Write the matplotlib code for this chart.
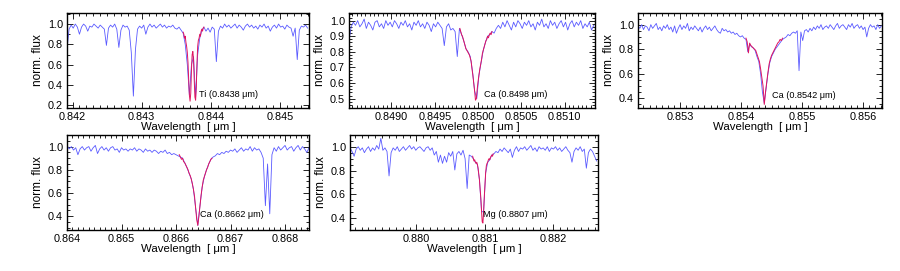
import numpy as np
import matplotlib
matplotlib.use("Agg")
import matplotlib.pyplot as plt
from matplotlib.ticker import MultipleLocator, FormatStrFormatter

plt.rcParams['font.family'] = ['Liberation Sans', 'DejaVu Sans']

# ---------------- data ----------------
# Panel 1: Ti 0.8438
p1_wl_start, p1_wl_step = 0.84192, 0.00003
p1_flux = [0.75, 0.95, 0.99, 0.96, 1.00, 0.97, 0.90, 0.97, 1.00, 0.98,
           0.93, 0.98, 0.97, 1.00, 0.98, 0.96, 0.99, 0.97, 0.95, 0.79,
           0.96, 0.99, 0.97, 1.00, 0.95, 0.77, 0.94, 0.99, 0.97, 0.98,
           0.94, 0.72, 0.29, 0.75, 0.95, 0.98, 0.96, 0.99, 0.90, 0.97,
           1.00, 0.97, 0.99, 0.96, 0.98, 1.00, 0.97, 0.99, 0.96, 0.98,
           0.97, 0.99, 0.96, 0.95, 0.97, 0.94, 0.91, 0.80, 0.60, 0.30,
           0.60, 0.68, 0.28, 0.70, 0.86, 0.94, 0.97, 0.93, 0.96, 0.92,
           0.97, 0.95, 0.63, 0.93, 0.98, 0.96, 1.00, 0.97, 0.99, 0.96,
           0.98, 1.00, 0.96, 0.99, 0.97, 0.94, 0.98, 1.00, 0.97, 0.99,
           0.96, 0.98, 0.95, 0.99, 0.97, 1.00, 0.96, 0.98, 0.93, 0.97,
           0.99, 0.96, 1.00, 0.97, 0.98, 0.95, 0.99, 0.97, 0.96, 0.88,
           0.96, 0.65, 0.94, 0.98, 0.97, 0.99, 0.96]
p1_red_start, p1_red_step = 0.84360, 0.00001
p1_red = [0.92, 0.90, 0.86, 0.88, 0.82, 0.78, 0.72, 0.62, 0.45, 0.30,
          0.24, 0.32, 0.55, 0.70, 0.73, 0.65, 0.45, 0.28, 0.25, 0.38,
          0.62, 0.78, 0.84, 0.86, 0.90, 0.88, 0.93, 0.95, 0.93, 0.96, 0.97]

# Panel 2: Ca 0.8498
p2_wl_start, p2_wl_step = 0.84851, 0.000025
p2_flux = [0.87, 0.96, 0.99, 0.97, 1.00, 0.96, 0.98, 1.01, 0.95, 0.99,
           0.97, 0.94, 0.99, 1.00, 0.96, 0.98, 0.95, 1.00, 0.97, 0.99,
           0.96, 1.00, 0.98, 0.95, 0.99, 0.97, 1.00, 0.96, 0.98, 0.94,
           0.99, 0.97, 1.00, 0.96, 0.98, 0.95, 0.99, 0.97, 0.93, 0.98,
           0.96, 0.99, 0.97, 0.95, 0.84, 0.96, 0.98, 0.94, 0.95, 0.93,
           0.77, 0.95, 0.91, 0.87, 0.82, 0.80, 0.77, 0.68, 0.55, 0.50,
           0.65, 0.73, 0.81, 0.86, 0.90, 0.91, 0.93, 0.92, 0.95, 0.97,
           0.95, 0.99, 0.96, 1.00, 0.97, 0.94, 0.99, 0.96, 1.00, 0.98,
           0.95, 0.99, 0.97, 1.00, 0.96, 0.98, 0.94, 0.99, 0.97, 1.01,
           0.96, 0.98, 0.95, 1.00, 0.97, 0.99, 0.95, 0.98, 1.00, 0.96,
           0.99, 0.94, 0.98, 1.00, 0.96, 0.99, 0.97, 1.00, 0.95, 0.98,
           0.96, 0.99, 0.94, 0.97]
p2_red_start, p2_red_step = 0.84979, 0.00001
p2_red = [0.95, 0.93, 0.91, 0.90, 0.88, 0.86, 0.84, 0.82, 0.81, 0.80,
          0.79, 0.78, 0.76, 0.74, 0.69, 0.65, 0.60, 0.55, 0.49, 0.50,
          0.56, 0.61, 0.65, 0.69, 0.72, 0.75, 0.79, 0.81, 0.83, 0.85,
          0.87, 0.88, 0.90, 0.89, 0.91, 0.92, 0.91, 0.93]

# Panel 3: Ca 0.8542
p3_wl_start, p3_wl_step = 0.85231, 0.00003
p3_flux = [0.99, 0.97, 1.00, 0.96, 0.99, 0.98, 0.95, 1.00, 0.97, 0.99,
           1.01, 0.96, 0.98, 0.95, 0.99, 0.97, 1.00, 0.96, 0.98, 0.94,
           0.99, 0.93, 0.97, 1.00, 0.96, 0.99, 0.97, 1.01, 0.95, 0.98,
           0.96, 0.99, 0.97, 0.95, 0.98, 0.94, 0.97, 0.99, 0.96, 0.98,
           0.95, 0.97, 0.99, 0.96, 0.94, 0.93, 0.97, 0.95, 0.96, 0.94,
           0.95, 0.93, 0.94, 0.92, 0.93, 0.91, 0.90, 0.91, 0.89, 0.88,
           0.78, 0.84, 0.82, 0.81, 0.79, 0.74, 0.70, 0.60, 0.45, 0.36,
           0.48, 0.60, 0.69, 0.74, 0.77, 0.80, 0.82, 0.84, 0.86, 0.88,
           0.89, 0.90, 0.92, 0.91, 0.93, 0.94, 0.93, 0.95, 0.625, 0.94,
           0.87, 0.95, 0.96, 0.94, 0.97, 0.95, 0.98, 0.96, 0.99, 0.97,
           1.00, 0.96, 0.98, 0.99, 0.97, 1.00, 0.98, 0.96, 0.99, 1.01,
           0.97, 0.99, 1.00, 0.98, 0.96, 1.00, 0.98, 1.01, 0.97, 0.99,
           1.00, 0.97, 0.99, 0.96, 0.98, 0.90, 0.97, 1.00, 0.98, 0.99,
           0.96, 1.00, 0.97, 0.99]
p3_red_start, p3_red_step = 0.85408, 0.00002
p3_red = [0.89, 0.86, 0.77, 0.85, 0.83, 0.82, 0.81, 0.80, 0.79, 0.76,
          0.73, 0.70, 0.64, 0.57, 0.50, 0.35, 0.45, 0.53, 0.61, 0.68,
          0.72, 0.75, 0.77, 0.79, 0.81, 0.83, 0.85, 0.86, 0.88, 0.87, 0.89]

# Panel 4: Ca 0.8662
p4_wl_start, p4_wl_step = 0.86400, 0.00004
p4_flux = [1.01, 0.98, 1.00, 0.97, 0.99, 0.93, 0.98, 1.00, 0.97, 0.99,
           1.00, 0.96, 0.99, 1.01, 0.94, 0.98, 1.00, 0.97, 0.99, 0.96,
           0.99, 1.00, 0.97, 0.98, 0.95, 0.99, 0.97, 0.98, 0.96, 0.98,
           0.97, 0.99, 0.96, 0.98, 0.97, 0.95, 0.98, 0.96, 0.97, 0.95,
           0.97, 0.96, 0.94, 0.96, 0.95, 0.97, 0.94, 0.95, 0.93, 0.94,
           0.93, 0.92, 0.91, 0.90, 0.86, 0.82, 0.77, 0.72, 0.63, 0.47,
           0.32, 0.49, 0.65, 0.74, 0.80, 0.85, 0.89, 0.91, 0.92, 0.94,
           0.93, 0.95, 0.94, 0.96, 0.95, 0.97, 0.96, 0.98, 0.95, 0.97,
           0.99, 0.96, 0.98, 0.97, 1.00, 0.96, 0.99, 0.97, 0.98, 0.95,
           0.90, 0.49, 0.85, 0.42, 0.93, 0.99, 0.96, 1.00, 0.97, 0.99,
           1.01, 0.97, 0.99, 1.00, 0.96, 0.99, 1.01, 0.97, 1.00, 0.98,
           0.95, 0.99]
p4_red_start, p4_red_step = 0.86606, 0.00002
p4_red = [0.93, 0.91, 0.89, 0.90, 0.87, 0.86, 0.84, 0.82, 0.80, 0.77,
          0.75, 0.72, 0.68, 0.63, 0.57, 0.47, 0.37, 0.32, 0.40, 0.49,
          0.58, 0.65, 0.71, 0.74, 0.77, 0.80, 0.82, 0.85, 0.87, 0.89, 0.90]

# Panel 5: Mg 0.8807
p5_wl_start, p5_wl_step = 0.87900, 0.00003
p5_flux = [0.97, 0.99, 0.96, 0.92, 0.98, 1.00, 0.97, 0.99, 0.95, 0.98,
           1.00, 0.96, 0.99, 0.97, 1.01, 0.98, 1.07, 0.97, 0.99, 0.96,
           0.755, 0.95, 0.99, 0.97, 1.00, 0.96, 0.98, 1.00, 0.97, 0.99,
           1.01, 0.98, 1.00, 0.97, 0.99, 1.00, 0.98, 0.96, 0.99, 1.00,
           0.97, 0.99, 0.93, 0.96, 0.87, 0.93, 0.86, 0.92, 0.87, 0.95,
           0.92, 0.96, 0.805, 0.94, 0.96, 0.93, 0.97, 0.90, 0.65, 0.93,
           0.92, 0.90, 0.87, 0.85, 0.72, 0.46, 0.45, 0.78, 0.87, 0.89,
           0.93, 0.94, 0.96, 0.95, 0.98, 0.96, 0.99, 0.97, 0.95, 0.98,
           0.91, 0.97, 1.00, 0.96, 0.99, 0.98, 1.00, 0.97, 0.99, 1.01,
           0.97, 0.99, 0.96, 1.00, 0.98, 0.99, 0.97, 1.00, 0.96, 0.99,
           0.98, 1.00, 0.97, 0.99, 0.96, 0.98, 1.00, 0.97, 0.95, 0.87,
           0.96, 0.99, 0.97, 1.00, 0.96, 0.98, 0.82, 0.95, 0.98, 0.96,
           0.92, 0.88]
p5_red_start, p5_red_step = 0.88082, 0.00001
p5_red = [0.92, 0.90, 0.88, 0.89, 0.87, 0.86, 0.87, 0.85, 0.82, 0.77,
          0.72, 0.64, 0.57, 0.46, 0.37, 0.36, 0.45, 0.58, 0.68, 0.78,
          0.84, 0.86, 0.87, 0.89, 0.90, 0.89, 0.91, 0.92, 0.93, 0.92, 0.94]

labels = ["Ti (0.8438 μm)", "Ca (0.8498 μm)", "Ca (0.8542 μm)",
          "Ca (0.8662 μm)", "Mg (0.8807 μm)"]
xlims = [(0.84192, 0.84542), (0.84851, 0.85135), (0.85231, 0.85631),
         (0.86400, 0.86844), (0.87903, 0.88265)]
ylims = [(0.173, 1.109), (0.44, 1.049), (0.321, 1.095),
         (0.28, 1.10), (0.302, 1.098)]
xmajor = [0.001, 0.0005, 0.001, 0.001, 0.001]
xminor = [0.0001, 0.00005, 0.0001, 0.0001, 0.0001]
ymajor = [0.2, 0.1, 0.2, 0.2, 0.2]
yminor = [0.1, 0.02, 0.05, 0.05, 0.05]
xfmt = ['%.3f', '%.4f', '%.3f', '%.3f', '%.3f']
label_pos = [(0.545, 0.14), (0.55, 0.14), (0.55, 0.13), (0.55, 0.16), (0.535, 0.165)]

blue_series = [(p1_wl_start, p1_wl_step, p1_flux), (p2_wl_start, p2_wl_step, p2_flux),
               (p3_wl_start, p3_wl_step, p3_flux), (p4_wl_start, p4_wl_step, p4_flux),
               (p5_wl_start, p5_wl_step, p5_flux)]
red_series = [(p1_red_start, p1_red_step, p1_red), (p2_red_start, p2_red_step, p2_red),
              (p3_red_start, p3_red_step, p3_red), (p4_red_start, p4_red_step, p4_red),
              (p5_red_start, p5_red_step, p5_red)]

# ---------------- layout ----------------
W, H = 900, 271
boxes_px = [(67, 13, 242, 95), (349, 13, 246, 95), (638, 13, 244, 95),
            (67, 135, 242, 95), (350, 135, 248, 95)]

fig = plt.figure(figsize=(W / 100, H / 100), dpi=100)
BLUE = '#5a5aff'
RED = '#e0145e'

for k in range(5):
    x0, y0, w, h = boxes_px[k]
    ax = fig.add_axes([x0 / W, (H - y0 - h) / H, w / W, h / H])
    s, st, fl = blue_series[k]
    wl = s + st * np.arange(len(fl))
    ax.plot(wl, fl, color=BLUE, lw=0.6)
    s, st, fl = red_series[k]
    wl = s + st * np.arange(len(fl))
    ax.plot(wl, fl, color=RED, lw=0.7)
    ax.set_xlim(*xlims[k])
    ax.set_ylim(*ylims[k])
    ax.xaxis.set_major_locator(MultipleLocator(xmajor[k]))
    ax.xaxis.set_minor_locator(MultipleLocator(xminor[k]))
    ax.yaxis.set_major_locator(MultipleLocator(ymajor[k]))
    ax.yaxis.set_minor_locator(MultipleLocator(yminor[k]))
    ax.xaxis.set_major_formatter(FormatStrFormatter(xfmt[k]))
    ax.yaxis.set_major_formatter(FormatStrFormatter('%.1f'))
    ax.tick_params(which='both', direction='in', top=True, right=True,
                   labelsize=7.8, width=0.6)
    ax.tick_params(axis='x', which='both', pad=3)
    ax.tick_params(axis='y', which='both', pad=3)
    ax.tick_params(which='major', length=4)
    ax.tick_params(which='minor', length=2)
    for sp in ax.spines.values():
        sp.set_linewidth(1.0)
    ax.set_xlabel("Wavelength  [ μm ]", fontsize=8.2, labelpad=0)
    ax.set_ylabel("norm. flux", fontsize=8.5, labelpad=3,
                  family=['Liberation Sans Narrow', 'Liberation Sans'])
    lx, ly = label_pos[k]
    ax.text(lx, ly, labels[k], transform=ax.transAxes, fontsize=6.6,
            ha='left', va='center')

fig.savefig("out.png", dpi=100)
